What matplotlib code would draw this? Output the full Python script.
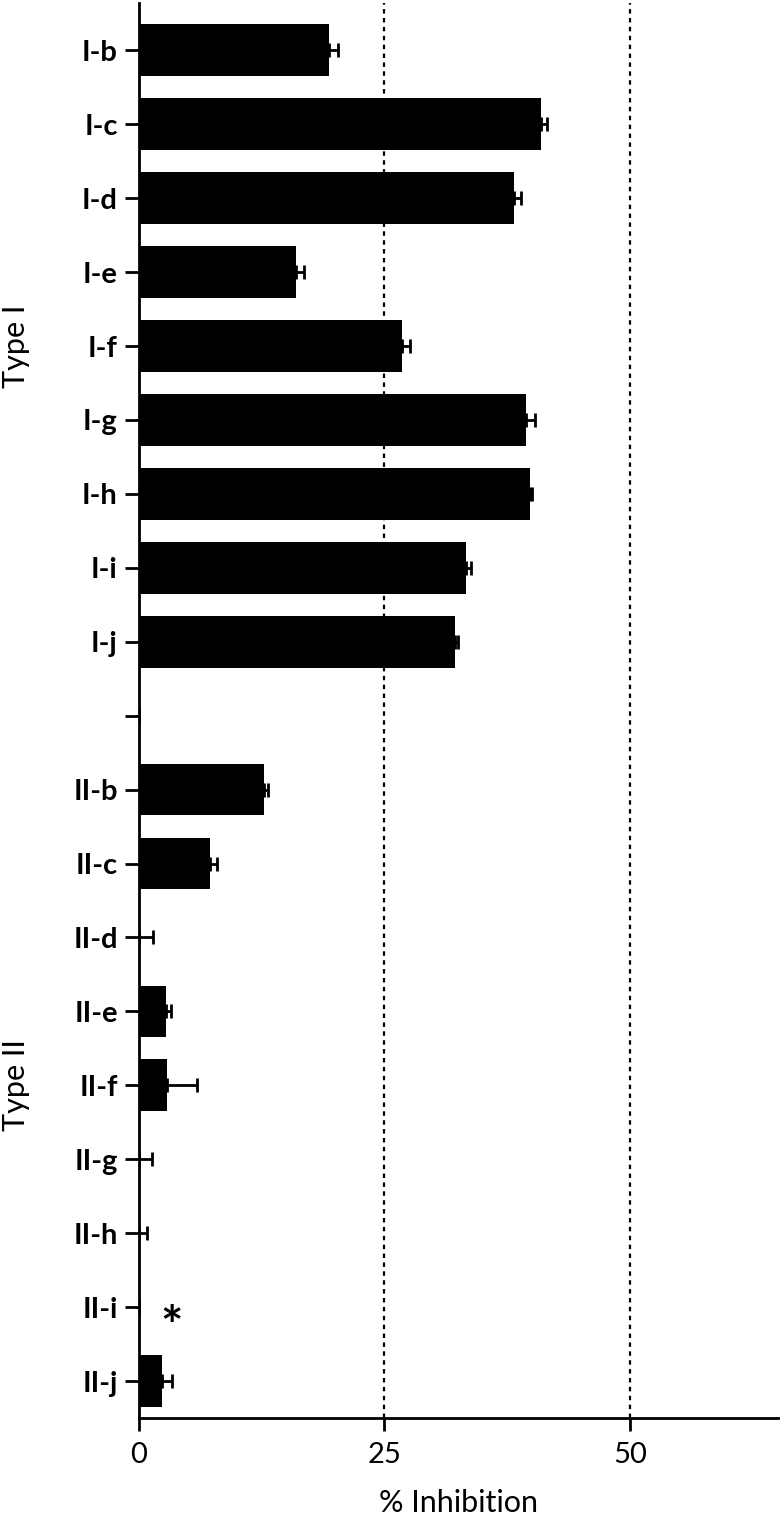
import matplotlib
matplotlib.use("Agg")
import matplotlib.pyplot as plt
import numpy as np

plt.rcParams['font.family'] = ['Lato', 'DejaVu Sans']

categories = ["I-b", "I-c", "I-d", "I-e", "I-f", "I-g", "I-h", "I-i", "I-j", "",
              "II-b", "II-c", "II-d", "II-e", "II-f", "II-g", "II-h", "II-i", "II-j"]
values = [19.4, 40.9, 38.2, 16.0, 26.8, 39.4, 39.8, 33.3, 32.2, np.nan,
          12.8, 7.3, 0.0, 2.8, 2.9, 0.0, 0.0, np.nan, 2.35]
errors = [0.9, 0.6, 0.65, 0.8, 0.8, 0.9, 0.2, 0.5, 0.3, np.nan,
          0.4, 0.7, 1.45, 0.5, 3.0, 1.35, 0.85, np.nan, 1.1]
star_label = "II-i"
star_x = 3.4
groups = ["Type I", "Type II"]
group_centers = ["I-f", "II-f"]
xticks = [0, 25, 50]
ref_lines = [25, 50]

fig = plt.figure(figsize=(7.8, 15.17), dpi=100)
ax_bottom_px = 1418
ax_top_px = 3
ax = fig.add_axes([138.5/780, 1 - ax_bottom_px/1517, (778-138.5)/780, (ax_bottom_px-ax_top_px)/1517])

y = np.arange(len(categories))
vals = np.nan_to_num(np.array(values))
errs = np.nan_to_num(np.array(errors))
ax.barh(y, vals, height=0.70, color='black', zorder=3)
ax.errorbar(vals, y, xerr=[np.zeros_like(errs), errs], fmt='none', ecolor='black',
            elinewidth=2, capsize=5, capthick=2, zorder=4)

for xv in ref_lines:
    ax.axvline(xv, color='black', lw=1.6, linestyle=(0, (2, 2)), zorder=1)

si = categories.index(star_label)
ax.text(star_x, si + 0.3, "*", ha='center', va='center', fontsize=38, fontweight='bold')

ax.set_ylim(18.5, -0.64)
ax.set_xlim(0, 65)
ax.set_yticks(y)
ax.set_yticklabels(categories, fontsize=21, fontweight='bold')
ax.set_xticks(xticks)
ax.set_xticklabels([str(t) for t in xticks], fontsize=21)
ax.set_xlabel("% Inhibition", fontsize=22)
ax.xaxis.label.set_va('center')
ax.xaxis.set_label_coords(0.5, -(1503 - ax_bottom_px) / (ax_bottom_px - ax_top_px))

ax.spines['top'].set_visible(False)
ax.spines['right'].set_visible(False)
ax.spines['left'].set_linewidth(2)
ax.spines['bottom'].set_linewidth(2)
ax.tick_params(axis='y', length=10, width=2, pad=5)
ax.tick_params(axis='x', length=9, width=2, pad=8)

for g, c in zip(groups, group_centers):
    yi = categories.index(c)
    yfig = ax.transData.transform((0, yi))[1]
    yf = fig.transFigure.inverted().transform((0, yfig))[1]
    fig.text(16/780, yf, g, rotation=90, ha='center', va='center', fontsize=22)

fig.savefig("out.png", dpi=100)
